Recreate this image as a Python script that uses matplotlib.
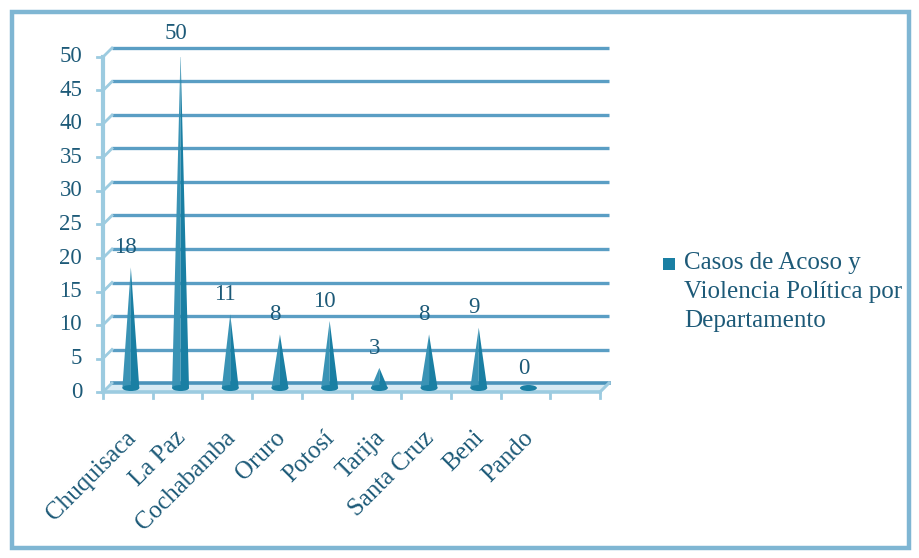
import matplotlib
matplotlib.use("Agg")
import matplotlib.pyplot as plt
from matplotlib.patches import Rectangle, Polygon, Ellipse
from matplotlib.transforms import offset_copy

plt.rcParams['font.family'] = ['Liberation Serif', 'DejaVu Serif']

departamentos = ["Chuquisaca", "La Paz", "Cochabamba", "Oruro", "Potosí",
                 "Tarija", "Santa Cruz", "Beni", "Pando"]
casos = [18, 50, 11, 8, 10, 3, 8, 9, 0]
y_ticks = [0, 5, 10, 15, 20, 25, 30, 35, 40, 45, 50]
serie = "Casos de Acoso y\nViolencia Política por\nDepartamento"

n_slots = 10          # category slots along the floor (last one left empty)
text_col = "#1d5a78"
cone_col = "#1a7fa3"
cone_light = "#3a93b5"
grid_col = "#5a9ec4"
wall_col = "#9ccbe0"
frame_col = "#7fb6d3"

W, H = 919, 558
fig = plt.figure(figsize=(W / 100, H / 100), dpi=100)
fig.patch.set_facecolor("white")

# outer frame of the chart
fig.patches.append(Rectangle((12 / W, 10 / H), (909 - 12) / W, (546 - 10) / H,
                             transform=fig.transFigure, fill=False,
                             edgecolor=frame_col, linewidth=3.2, zorder=0))

left, right = 103 / W, 600 / W
bottom, top = (H - 392) / H, (H - 57) / H
ax = fig.add_axes([left, bottom, right - left, top - bottom])
ax.set_xlim(0, n_slots)
ax.set_ylim(0, 50)
ax.axis("off")

# depth offsets (in pixels) for the back wall and for the cone row
back = offset_copy(ax.transData, fig=fig, x=9, y=9, units="dots")
mid = offset_copy(ax.transData, fig=fig, x=3, y=4, units="dots")
inv = ax.transData.inverted()

# back-wall gridlines with their short diagonal on the side wall
for v in y_ticks:
    if v == 0:
        continue
    ax.plot([0, n_slots], [v, v], transform=back, color=grid_col,
            lw=2.4, solid_capstyle="butt", clip_on=False, zorder=2)
    q1 = inv.transform(back.transform((0, v)))
    ax.plot([0, q1[0]], [v, q1[1]], color=wall_col, lw=2.0,
            clip_on=False, zorder=2)

# floor: back edge, front edge and right-hand side
b0 = inv.transform(back.transform((0, 0)))
b1 = inv.transform(back.transform((n_slots, 0)))
floor = Polygon([(0, 0), (n_slots, 0), tuple(b1), tuple(b0)], closed=True,
                facecolor="#d8ebf4", edgecolor="none", clip_on=False, zorder=1)
ax.add_patch(floor)
ax.plot([b0[0], b1[0]], [b0[1], b1[1]], color="#4b93ba", lw=2.6,
        clip_on=False, zorder=2)
ax.plot([0, n_slots], [0, 0], color=wall_col, lw=2.6, clip_on=False, zorder=2)
ax.plot([n_slots, b1[0]], [0, b1[1]], color=wall_col, lw=2.2,
        clip_on=False, zorder=2)
ax.plot([0, b0[0]], [0, b0[1]], color=wall_col, lw=2.0, clip_on=False, zorder=2)

# left wall front edge
ax.plot([0, 0], [0, 50], color=wall_col, lw=3.0, clip_on=False, zorder=2)

# y ticks and labels
for v in y_ticks:
    ax.plot([-0.12, 0], [v, v], color=wall_col, lw=2.0, clip_on=False, zorder=2)
    ax.text(-0.42, v, str(v), ha="right", va="center", fontsize=16.5,
            color=text_col, clip_on=False)

# x ticks below the floor
for k in range(n_slots + 1):
    ax.plot([k, k], [0, -0.9], color=wall_col, lw=2.0, clip_on=False, zorder=2)

# category labels, rotated
for i, name in enumerate(departamentos):
    ax.text(i + 0.44, -5.2, name, rotation=45, ha="right", va="top",
            rotation_mode="anchor", fontsize=18, color=text_col,
            clip_on=False)

# cones
hw = 0.17
for i, v in enumerate(casos):
    cx = i + 0.5
    if v > 0:
        right_half = Polygon([(cx, v), (cx + hw, 0), (cx, 0)], closed=True,
                             transform=mid, facecolor=cone_col,
                             edgecolor="none", zorder=4)
        left_half = Polygon([(cx, v), (cx - hw, 0), (cx, 0)], closed=True,
                            transform=mid, facecolor=cone_light,
                            edgecolor="none", zorder=4)
        ax.add_patch(left_half)
        ax.add_patch(right_half)
    base = Ellipse((cx, 0), 2 * hw, 0.9, transform=mid, facecolor=cone_col,
                   edgecolor="none", zorder=4)
    ax.add_patch(base)
    ax.text(cx - 0.04, v + 2.0, str(v), ha="center", va="bottom",
            fontsize=16.5, color=text_col, clip_on=False, zorder=5)

# legend
fig.patches.append(Rectangle((663 / W, (H - 270) / H), 12 / W, 12 / H,
                             transform=fig.transFigure, facecolor=cone_col,
                             edgecolor="none"))
fig.text(684 / W, (H - 252) / H, serie, ha="left", va="top", fontsize=18,
         color=text_col, linespacing=1.42)

fig.savefig("out.png", dpi=100, facecolor="white")
